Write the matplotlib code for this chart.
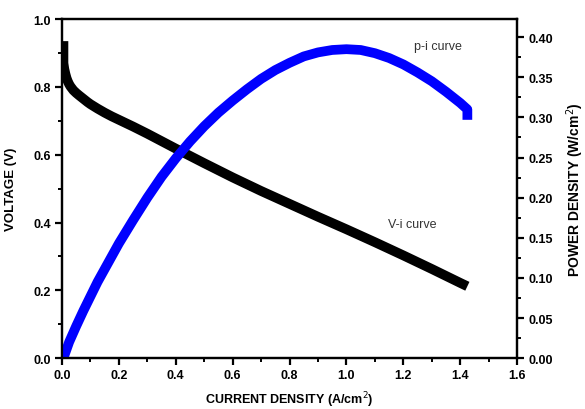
import matplotlib.pyplot as plt
from matplotlib.ticker import MultipleLocator

plt.rcParams['font.family'] = ['Liberation Sans', 'DejaVu Sans']

# V-i curve (current density A/cm2, voltage V)
vi_current = [0.005, 0.005, 0.008, 0.012, 0.016, 0.02, 0.025, 0.03, 0.04, 0.05, 0.06, 0.075, 0.09, 0.1,
              0.125, 0.15, 0.175, 0.2, 0.25, 0.3, 0.35, 0.4,
              0.5, 0.6, 0.7, 0.8, 0.9, 1.0, 1.1, 1.2, 1.3, 1.4, 1.425]
vi_voltage = [0.935, 0.87, 0.853, 0.838, 0.826, 0.817, 0.808, 0.801, 0.79, 0.782, 0.775, 0.765, 0.755, 0.749,
              0.736, 0.724, 0.713, 0.703, 0.683, 0.662, 0.64, 0.618,
              0.575, 0.533, 0.493, 0.455, 0.417, 0.380, 0.342, 0.303, 0.263, 0.222, 0.212]

# p-i curve (current density A/cm2, power density W/cm2)
pi_current = [0.005, 0.025, 0.05, 0.075, 0.1, 0.125, 0.15, 0.175, 0.2, 0.25, 0.3, 0.35, 0.4, 0.45, 0.5,
              0.55, 0.6, 0.65, 0.7, 0.75, 0.8, 0.85, 0.9, 0.95, 1.0, 1.05, 1.1, 1.15, 1.2, 1.25, 1.3,
              1.35, 1.4, 1.425, 1.425]
pi_power = [0.0, 0.02, 0.04, 0.059, 0.077, 0.095, 0.111, 0.127, 0.143, 0.172, 0.2, 0.226, 0.249, 0.27, 0.289,
            0.306, 0.321, 0.335, 0.348, 0.359, 0.368, 0.376, 0.381, 0.384, 0.385, 0.384, 0.38, 0.374, 0.366,
            0.356, 0.345, 0.332, 0.318, 0.31, 0.297]

fig = plt.figure(figsize=(5.85, 4.10), dpi=100)
ax = fig.add_axes([0.106, 0.124, 0.778, 0.827])
ax2 = ax.twinx()

ax.plot(vi_current, vi_voltage, color='black', lw=7, solid_capstyle='butt', solid_joinstyle='round', zorder=3)
ax2.plot(pi_current, pi_power, color='#0000ff', lw=7, solid_capstyle='butt', solid_joinstyle='round')

ax.set_xlim(0, 1.6)
ax.set_ylim(0, 1.0)
ax2.set_ylim(0, 0.4225)

ax.xaxis.set_major_locator(MultipleLocator(0.2))
ax.xaxis.set_minor_locator(MultipleLocator(0.1))
ax.yaxis.set_major_locator(MultipleLocator(0.2))
ax.yaxis.set_minor_locator(MultipleLocator(0.1))
ax2.yaxis.set_major_locator(MultipleLocator(0.05))
ax2.yaxis.set_minor_locator(MultipleLocator(0.025))

ax.xaxis.set_major_formatter(lambda v, p: f'{v:.1f}')
ax.yaxis.set_major_formatter(lambda v, p: f'{v:.1f}')
ax2.yaxis.set_major_formatter(lambda v, p: f'{v:.2f}')

for a in (ax, ax2):
    for s in a.spines.values():
        s.set_linewidth(1.6)
    a.tick_params(which='major', direction='out', length=5, width=1.6, labelsize=9, pad=3)
    a.tick_params(which='minor', direction='out', length=3, width=1.4)
    for lab in a.get_xticklabels() + a.get_yticklabels():
        lab.set_fontweight('bold')

ax.set_xlabel('CURRENT DENSITY (A/cm$^2$)', fontsize=9, fontweight='bold', labelpad=6)
ax.set_ylabel('VOLTAGE (V)', fontsize=9.5, fontweight='bold', labelpad=12)
ax2.set_ylabel('POWER DENSITY (W/cm$^2$)', fontsize=10, fontweight='bold', labelpad=8)

ax.text(1.146, 0.395, 'V-i curve', fontsize=9, color='#333333', va='center')
ax.text(1.238, 0.92, 'p-i curve', fontsize=9, color='#333333', va='center')

fig.savefig('out.png', dpi=100)
